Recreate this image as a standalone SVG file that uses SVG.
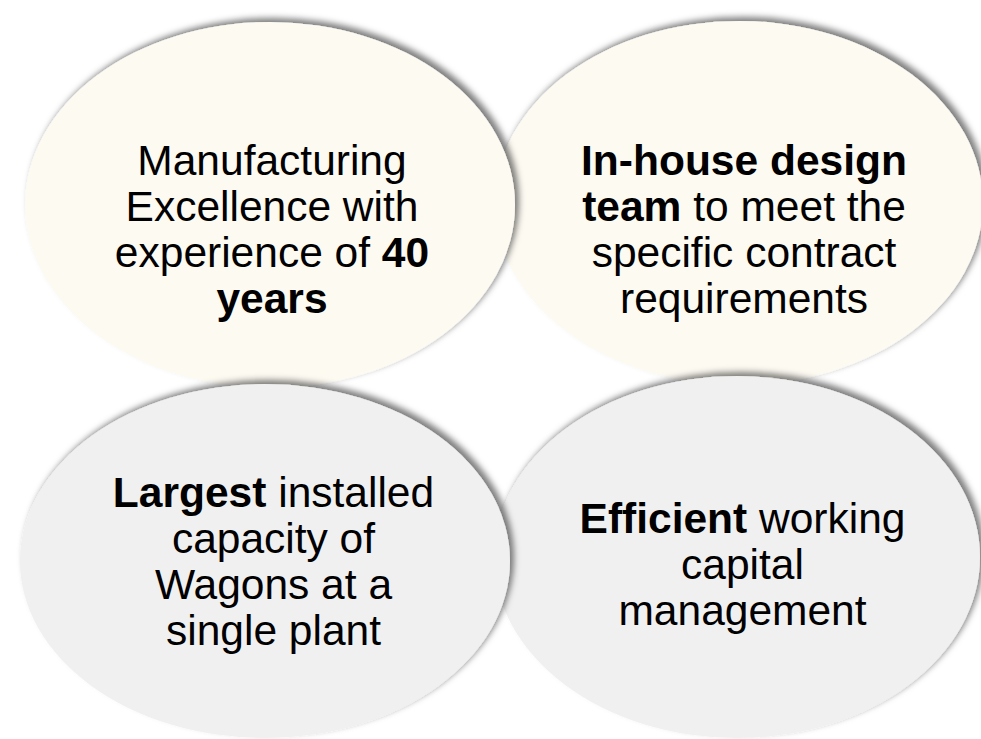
<svg xmlns="http://www.w3.org/2000/svg" width="981" height="739" viewBox="0 0 981 739">
  <defs>
    <filter id="sh" x="-10%" y="-10%" width="120%" height="120%">
      <feDropShadow dx="4" dy="-4" stdDeviation="3" flood-color="#000" flood-opacity="0.5"/>
    </filter>
    <style>
      .top { fill: #FDFAF2; filter: url(#sh); }
      .bot { fill: #F0F0F0; filter: url(#sh); }
      text { font-family: "Liberation Sans", Arial, sans-serif; font-size: 42.5px; fill: #000; text-anchor: middle; }
      .b { font-weight: bold; }
    </style>
  </defs>
  <rect width="981" height="739" fill="#fff"/>
  <g id="node-tr">
    <ellipse class="top" cx="739" cy="203" rx="244" ry="182"/>
    <text x="744" y="175"><tspan class="b">In-house design</tspan></text>
    <text x="744" y="221"><tspan class="b">team</tspan> to meet the</text>
    <text x="744" y="267">specific contract</text>
    <text x="744" y="313">requirements</text>
  </g>
  <g id="node-tl">
    <ellipse class="top" cx="270" cy="205" rx="245" ry="183"/>
    <text x="272" y="175">Manufacturing</text>
    <text x="272" y="221">Excellence with</text>
    <text x="272" y="267">experience of <tspan class="b">40</tspan></text>
    <text x="272" y="313" class="b">years</text>
  </g>
  <g id="node-br">
    <ellipse class="bot" cx="737" cy="557" rx="243" ry="181"/>
    <text x="742.5" y="533"><tspan class="b">Efficient</tspan> working</text>
    <text x="742.5" y="579">capital</text>
    <text x="742.5" y="625">management</text>
  </g>
  <g id="node-bl">
    <ellipse class="bot" cx="265" cy="561" rx="245" ry="177"/>
    <text x="273.5" y="507"><tspan class="b">Largest</tspan> installed</text>
    <text x="273.5" y="553">capacity of</text>
    <text x="273.5" y="599">Wagons at a</text>
    <text x="273.5" y="645">single plant</text>
  </g>
  <g id="connectors"></g>
</svg>
